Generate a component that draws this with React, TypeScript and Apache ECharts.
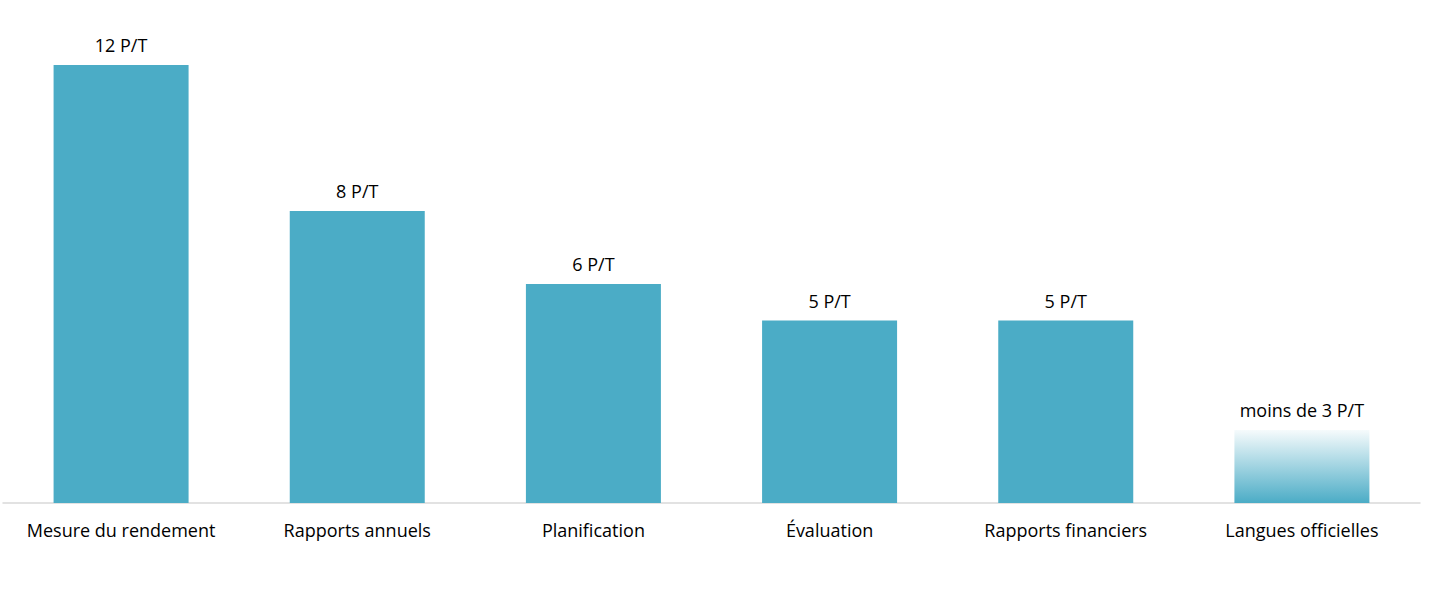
import React, { useEffect, useRef } from "react";
import * as echarts from "echarts";

const categories = [
  "Mesure du rendement",
  "Rapports annuels",
  "Planification",
  "Évaluation",
  "Rapports financiers",
  "Langues officielles",
];
const values = [12, 8, 6, 5, 5, 2];
const valueLabels = ["12 P/T", "8 P/T", "6 P/T", "5 P/T", "5 P/T", "moins de 3 P/T"];

const BAR = "#4BACC6";
const FONT = "'Open Sans', 'Liberation Sans', sans-serif";

export default function App() {
  const ref = useRef<HTMLDivElement>(null);
  useEffect(() => {
    if (!ref.current) return;
    const chart = echarts.init(ref.current, null, { renderer: "svg" });
    const data = values.map((v, i) => {
      if (i === values.length - 1) {
        return {
          value: v,
          itemStyle: {
            color: new echarts.graphic.LinearGradient(0, 0, 0, 1, [
              { offset: 0, color: "rgba(75,172,198,0.05)" },
              { offset: 1, color: "rgba(75,172,198,1)" },
            ]),
          },
        };
      }
      return { value: v };
    });
    chart.setOption({
      animation: false,
      backgroundColor: "#ffffff",
      grid: { left: 3, right: 19, top: 65, bottom: 88, containLabel: false },
      xAxis: {
        type: "category",
        data: categories,
        axisLine: { lineStyle: { color: "#d9d9d9", width: 1.5 } },
        axisTick: { show: false },
        axisLabel: { color: "#000", fontFamily: FONT, fontSize: 18, margin: 18, interval: 0 },
      },
      yAxis: {
        type: "value",
        min: 0,
        max: 12,
        show: false,
        splitLine: { show: false },
      },
      series: [
        {
          type: "bar",
          data,
          barWidth: 135,
          itemStyle: { color: BAR },
          label: {
            show: true,
            position: "top",
            distance: 11,
            color: "#000",
            fontFamily: FONT,
            fontSize: 18,
            formatter: (p: any) => valueLabels[p.dataIndex],
          },
        },
      ],
    });
    return () => chart.dispose();
  }, []);
  return (
    <div
      ref={ref}
      style={{ position: "fixed", left: 0, top: 0, width: 1439, height: 591 }}
    />
  );
}
